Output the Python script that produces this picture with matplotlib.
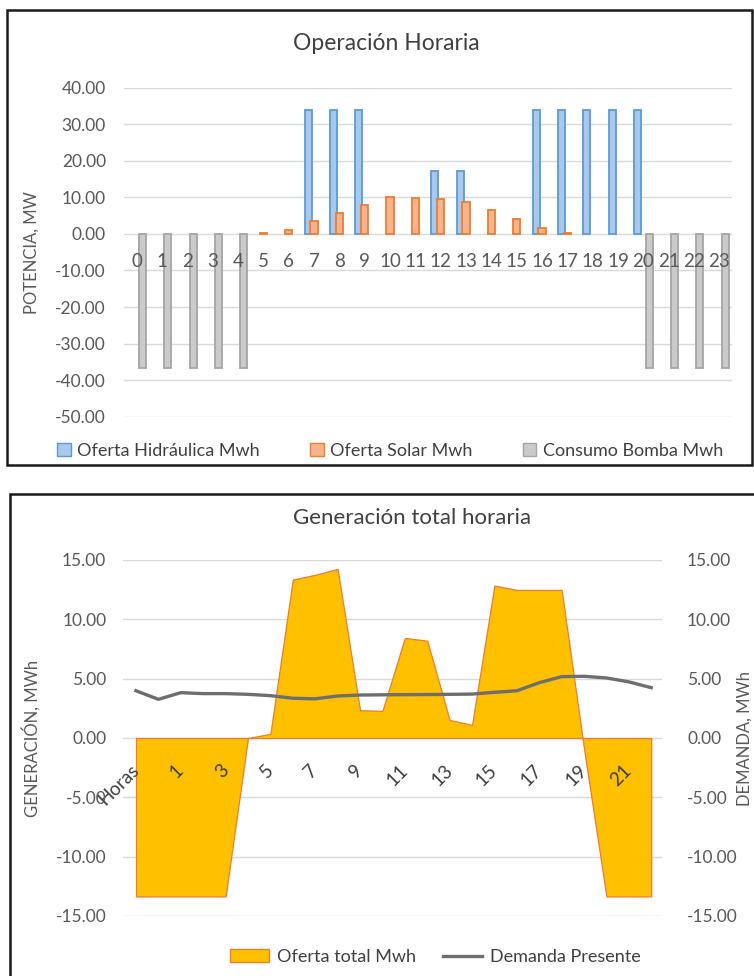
import matplotlib.pyplot as plt
from matplotlib.patches import Rectangle, Patch
from matplotlib.lines import Line2D
from matplotlib.ticker import FormatStrFormatter
import numpy as np

plt.rcParams['font.family'] = ['Lato', 'DejaVu Sans']

# --- Datos: Operación Horaria ---
horas = ["0", "1", "2", "3", "4", "5", "6", "7", "8", "9", "10", "11",
         "12", "13", "14", "15", "16", "17", "18", "19", "20", "21", "22", "23"]
hidraulica = [0, 0, 0, 0, 0, 0, 0, 33.9, 33.9, 33.9, 0, 0,
              17.2, 17.2, 0, 0, 33.9, 33.9, 33.9, 33.9, 33.9, 0, 0, 0]
solar = [0, 0, 0, 0, 0, 0.3, 1.1, 3.66, 5.86, 7.78, 9.97, 9.79,
         9.42, 8.6, 6.68, 4.2, 1.74, 0.37, 0, 0, 0, 0, 0, 0]
bomba = [-36.7, -36.7, -36.7, -36.7, -36.7, 0, 0, 0, 0, 0, 0, 0,
         0, 0, 0, 0, 0, 0, 0, 0, -36.7, -36.7, -36.7, -36.7]

# --- Datos: Generación total horaria ---
categorias = ["Horas", "0", "1", "2", "3", "4", "5", "6", "7", "8", "9", "10",
              "11", "12", "13", "14", "15", "16", "17", "18", "19", "20", "21", "22"]
oferta_total = [-13.35, -13.35, -13.35, -13.35, -13.35, 0.0, 0.35, 13.35, 13.75, 14.25,
                2.35, 2.28, 8.43, 8.2, 1.52, 1.1, 12.84, 12.48, 12.48, 12.48,
                -0.9, -13.35, -13.35, -13.35]
demanda = [3.98, 3.26, 3.82, 3.74, 3.74, 3.68, 3.57, 3.35, 3.3, 3.54, 3.62, 3.64,
           3.65, 3.66, 3.68, 3.7, 3.85, 3.98, 4.66, 5.17, 5.2, 5.06, 4.73, 4.24]

W, H = 754, 976
fig = plt.figure(figsize=(W / 100, H / 100), dpi=100)
txt = '#595959'
grid = '#D9D9D9'


def box(x0, y0, x1, y1):
    # rectangulo en pixeles (origen arriba a la izquierda)
    return [x0 / W, 1 - y1 / H, (x1 - x0) / W, (y1 - y0) / H]


# marcos de los dos graficos
fig.add_artist(Rectangle((7 / W, 1 - 465 / H), 745 / W, 455 / H, transform=fig.transFigure,
                         fill=False, edgecolor='#1a1a1a', linewidth=1.8))
fig.add_artist(Rectangle((10 / W, 1 - 1000 / H), 760 / W, 506 / H, transform=fig.transFigure,
                         fill=False, edgecolor='#1a1a1a', linewidth=1.8))

# ---------------- Grafico 1 ----------------
ax = fig.add_axes(box(124, 87.7, 732, 416.7))
x = np.arange(len(horas))
bw = 0.28
off = 0.227
series = [(hidraulica, -off, '#A9C8EA', '#5B9BD5'),
          (solar, 0, '#F6B48E', '#ED7D31'),
          (bomba, off, '#CACACA', '#A5A5A5')]
for vals, o, fc, ec in series:
    v = np.array(vals, dtype=float)
    m = v != 0
    ax.bar(x[m] + o, v[m], bw, color=fc, edgecolor=ec, linewidth=1.3, zorder=2)
ax.set_xlim(-0.5, 23.5)
ax.set_ylim(-50, 40)
ax.set_yticks(np.arange(-50, 41, 10))
for t in np.arange(-50, 41, 10):
    ax.axhline(t, color=grid, linewidth=1, zorder=0)
ax.set_axisbelow(False)
ax.yaxis.set_major_formatter(FormatStrFormatter('%.2f'))
ax.set_xticks(x)
ax.set_xticklabels(horas)
for s in ax.spines.values():
    s.set_visible(False)
ax.spines['bottom'].set_position(('data', 0))
ax.tick_params(axis='x', length=0, pad=14, labelsize=13.5, labelcolor=txt)
ax.tick_params(axis='y', length=0, pad=13, labelsize=12.5, labelcolor=txt)
ax.set_ylabel('POTENCIA, MW', fontsize=12, color=txt)
ax.yaxis.set_label_coords(-0.138, 0.5)
fig.text(386 / W, 1 - 44 / H, 'Operación Horaria', ha='center', va='center',
         fontsize=16.5, color='#404040')

h1 = [Patch(facecolor='#A9C8EA', edgecolor='#5B9BD5'),
      Patch(facecolor='#F6B48E', edgecolor='#ED7D31'),
      Patch(facecolor='#CACACA', edgecolor='#A5A5A5')]
fig.legend(h1, ['Oferta Hidráulica Mwh', 'Oferta Solar Mwh', 'Consumo Bomba Mwh'],
           loc='center', bbox_to_anchor=(390 / W, 1 - 451 / H), ncol=3, frameon=False,
           fontsize=13, handlelength=0.75, handleheight=0.75, handletextpad=0.35,
           columnspacing=2.8, labelcolor='#404040')

# ---------------- Grafico 2 ----------------
bx = fig.add_axes(box(123, 560, 662, 916))
xi = np.arange(len(categorias))
bx.fill_between(xi, 0, oferta_total, facecolor='#FFC000', edgecolor='#ED7D31',
                linewidth=0.9, zorder=1)
bx.set_xlim(-0.58, 23.48)
bx.set_ylim(-15, 15)
bx.set_yticks(np.arange(-15, 16, 5))
for t in np.arange(-15, 16, 5):
    bx.axhline(t, color=grid, linewidth=1, zorder=0)
bx.set_axisbelow(False)
bx.yaxis.set_major_formatter(FormatStrFormatter('%.2f'))
bx.set_xticks(xi[::2])
bx.set_xticklabels(categorias[::2])
for s in bx.spines.values():
    s.set_visible(False)
bx.spines['bottom'].set_position(('data', 0))
bx.tick_params(axis='x', length=0, pad=21, labelsize=13.5, labelcolor='#404040')
for lab in bx.get_xticklabels():
    lab.set_rotation(45)
    lab.set_ha('right')
    lab.set_va('center')
    lab.set_rotation_mode('anchor')
bx.tick_params(axis='y', length=0, pad=12, labelsize=12.5, labelcolor=txt)
bx.set_ylabel('GENERACIÓN, MWh', fontsize=12, color=txt)
bx.yaxis.set_label_coords(-0.152, 0.5)

bx2 = bx.twinx()
bx2.plot(xi, demanda, color='#6E6E6E', linewidth=2.4, zorder=4)
bx2.set_ylim(-15, 15)
bx2.set_yticks(np.arange(-15, 16, 5))
bx2.yaxis.set_major_formatter(FormatStrFormatter('%.2f'))
for s in bx2.spines.values():
    s.set_visible(False)
bx2.tick_params(axis='y', length=0, pad=18, labelsize=12.5, labelcolor=txt)
bx2.set_ylabel('DEMANDA, MWh', fontsize=12, color=txt, rotation=90)
bx2.yaxis.set_label_coords(1.139, 0.5)

fig.text(412 / W, 1 - 518 / H, 'Generación total horaria', ha='center', va='center',
         fontsize=16, color='#404040')

h2 = [Patch(facecolor='#FFC000', edgecolor='#ED7D31'),
      Line2D([0], [0], color='#6E6E6E', linewidth=2.4)]
fig.legend(h2, ['Oferta total Mwh', 'Demanda Presente'], loc='center',
           bbox_to_anchor=(435 / W, 1 - 957 / H), ncol=2, frameon=False, fontsize=13,
           handlelength=2.2, handletextpad=0.4, columnspacing=1.5, labelcolor='#404040')

fig.savefig('out.png', dpi=100)
